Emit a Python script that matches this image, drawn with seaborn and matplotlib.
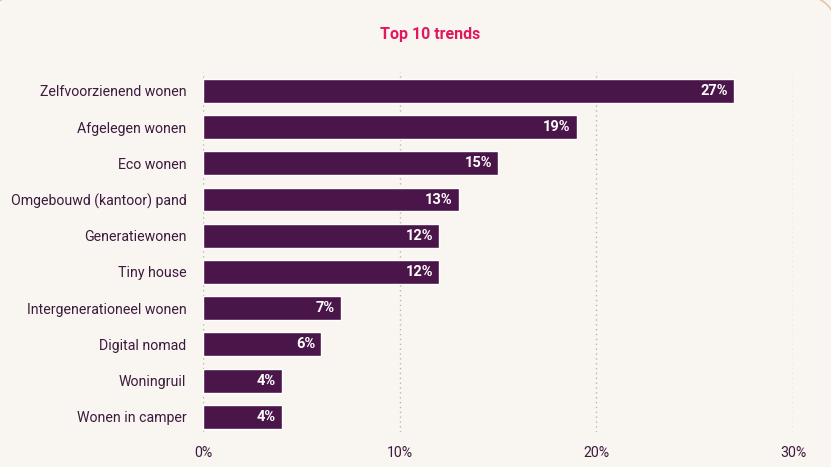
import matplotlib.pyplot as plt
import seaborn as sns
import pandas as pd
import numpy as np
from matplotlib.patches import PathPatch
from matplotlib.path import Path
from matplotlib.transforms import IdentityTransform

# data
trends = ['Zelfvoorzienend wonen', 'Afgelegen wonen', 'Eco wonen',
          'Omgebouwd (kantoor) pand', 'Generatiewonen', 'Tiny house',
          'Intergenerationeel wonen', 'Digital nomad', 'Woningruil',
          'Wonen in camper']
percent = [27, 19, 15, 13, 12, 12, 7, 6, 4, 4]
xticks = [0, 10, 20, 30]

bg = '#f9f6f2'
bar_color = '#4a1548'
text_color = '#3d1a3d'

sns.set_style('white')
plt.rcParams['font.family'] = ['Roboto', 'DejaVu Sans']

df = pd.DataFrame({'trend': trends, 'pct': percent})

fig = plt.figure(figsize=(8.31, 4.67), dpi=100)
fig.patch.set_facecolor(bg)

# card outline in pixels: only the two top corners show
r, left, right, top = 30, -14, 836, 471
t1 = np.linspace(np.pi, np.pi / 2, 20)
t2 = np.linspace(np.pi / 2, 0, 20)
xs = np.r_[left, left + r + r * np.cos(t1), right - r + r * np.cos(t2), right]
ys = np.r_[-50, top - r + r * np.sin(t1), top - r + r * np.sin(t2), -50]
fig.patches.append(PathPatch(Path(np.column_stack([xs, ys])),
                             transform=IdentityTransform(), facecolor='none',
                             edgecolor='#e2c8ab', linewidth=1.2, zorder=0))

ax = fig.add_axes([0.2443, 0.075, 0.71, 0.771])
ax.set_facecolor(bg)

sns.barplot(data=df, x='pct', y='trend', color=bar_color, width=0.66,
            saturation=1, ax=ax, zorder=3)

for i, v in enumerate(percent):
    ax.text(v - 0.3, i, f'{v}%', ha='right', va='center', color='white',
            fontsize=10.5, fontweight='bold', zorder=4)

ax.set_xlim(0, 30)
ax.set_ylim(9.42, -0.525)
ax.set_xticks(xticks)
ax.set_xticklabels([f'{t}%' for t in xticks])
for t in xticks:
    ax.axvline(t, color='#b9b4b0', linestyle=(0, (1, 2.5)), linewidth=1, zorder=1)

ax.set_xlabel('')
ax.set_ylabel('')
ax.tick_params(axis='both', length=0, labelcolor=text_color, labelsize=10.2)
ax.tick_params(axis='x', pad=10)
ax.tick_params(axis='y', pad=12)
sns.despine(ax=ax, left=True, bottom=True)

fig.text(430 / 831, 1 - 35 / 467, 'Top 10 trends', ha='center', va='center',
         color='#e0195f', fontsize=11.5, fontweight='bold')

fig.savefig('out.png', dpi=100, facecolor=bg)
